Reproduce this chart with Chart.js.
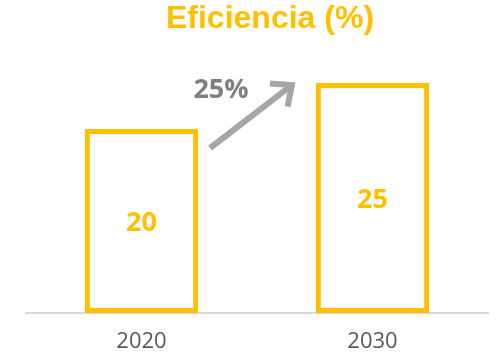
<!DOCTYPE html>
<html>
<head>
<meta charset="utf-8">
<script src="https://cdn.jsdelivr.net/npm/chart.js@4/dist/chart.umd.min.js"></script>
<style>
    html, body { margin: 0; padding: 0; background: #ffffff; }
    #wrap { width: 498px; height: 355px; position: relative; }
</style>
</head>
<body>
<div id="wrap"><canvas id="chart"></canvas></div>
<script>
const years = ['2020', '2030'];
const efficiency = [20, 25];
const growthLabel = '25%';
const chartTitle = 'Eficiencia (%)';

const gold = '#FFC000';

// Labels inside the bars, title, and the growth arrow
const overlayPlugin = {
    id: 'overlay',
    afterDatasetsDraw(chart) {
        const ctx = chart.ctx;
        const bars = chart.getDatasetMeta(0).data;

        ctx.save();
        ctx.fillStyle = gold;
        ctx.font = 'bold 27px "Open Sans"';
        ctx.textAlign = 'center';
        ctx.textBaseline = 'alphabetic';
        bars.forEach((bar, i) => {
            const mid = (bar.y + bar.base) / 2;
            ctx.fillText(String(efficiency[i]), bar.x, mid + 10);
        });

        // title
        ctx.font = 'bold 32px "Liberation Sans"';
        ctx.fillText(chartTitle, 270, 28);

        // arrow between the bars
        const b1 = bars[0], b2 = bars[1];
        const half1 = b1.width / 2, half2 = b2.width / 2;
        const x0 = b1.x + half1 + 12, y0 = b1.y + 19;
        const x1 = b2.x - half2 - 24, y1 = b2.y + 2;
        const ang = Math.atan2(y1 - y0, x1 - x0);
        ctx.strokeStyle = '#A6A6A6';
        ctx.lineWidth = 6;
        ctx.lineCap = 'butt';
        ctx.lineJoin = 'miter';
        ctx.beginPath();
        ctx.moveTo(x0, y0);
        ctx.lineTo(x1 - 3 * Math.cos(ang), y1 - 3 * Math.sin(ang));
        ctx.stroke();
        const head = 22, spread = 0.72;
        ctx.beginPath();
        ctx.moveTo(x1 - head * Math.cos(ang - spread), y1 - head * Math.sin(ang - spread));
        ctx.lineTo(x1, y1);
        ctx.lineTo(x1 - head * Math.cos(ang + spread), y1 - head * Math.sin(ang + spread));
        ctx.stroke();

        ctx.fillStyle = '#7F7F7F';
        ctx.font = 'bold 27px "Open Sans"';
        ctx.fillText(growthLabel, 221, 98);
        ctx.restore();
    }
};

new Chart(document.getElementById('chart'), {
    type: 'bar',
    data: {
        labels: years,
        datasets: [{
            data: efficiency,
            backgroundColor: '#ffffff',
            borderColor: gold,
            borderWidth: 5,
            borderSkipped: false,
            barPercentage: 0.49,
            categoryPercentage: 1
        }]
    },
    options: {
        responsive: true,
        maintainAspectRatio: false,
        animation: false,
        layout: { padding: { left: 26, right: 10, top: 37, bottom: 0 } },
        plugins: {
            legend: { display: false },
            tooltip: { enabled: false }
        },
        scales: {
            x: {
                grid: { display: false },
                border: { display: true, color: '#D9D9D9', width: 2 },
                ticks: {
                    color: '#595959',
                    font: { family: '"Open Sans"', size: 22 },
                    padding: 8,
                    maxRotation: 0
                },
                afterFit(scale) { scale.height = 42; }
            },
            y: {
                display: false,
                min: 0,
                max: 30
            }
        }
    },
    plugins: [overlayPlugin]
});
</script>
</body>
</html>
